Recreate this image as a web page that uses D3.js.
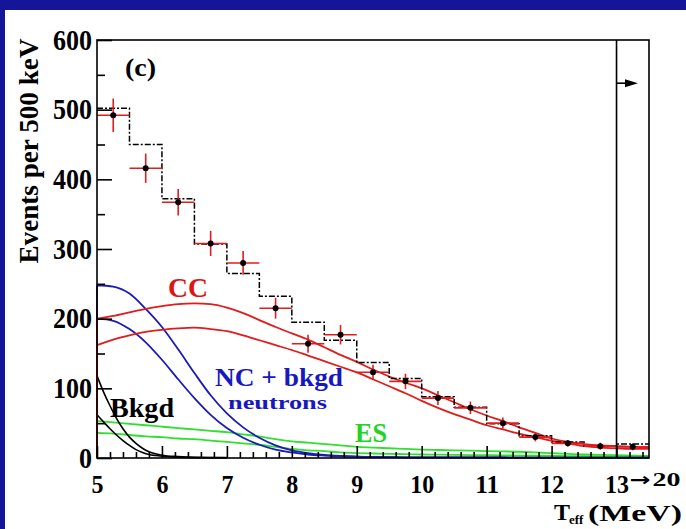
<!DOCTYPE html>
<html>
<head>
<meta charset="utf-8">
<script src="https://cdn.jsdelivr.net/npm/d3@7/dist/d3.min.js"></script>
<style>
  html, body { margin: 0; padding: 0; background: #15159a; }
  svg { display: block; }
  text { font-family: "Liberation Serif", "Times New Roman", serif; }
</style>
</head>
<body>
<svg id="chart" width="686" height="529"></svg>
<script>
// Energy bins (MeV): 0.5 MeV wide from 5 to 13, plus the 13 -> 20 MeV overflow bin,
// which is drawn compressed into the slot 13.0 - 13.5.
const binLow = [5.0, 5.5, 6.0, 6.5, 7.0, 7.5, 8.0, 8.5, 9.0, 9.5, 10.0, 10.5, 11.0, 11.5, 12.0, 12.5, 13.0];
const binWidth = 0.5;

// Measured events per bin and their statistical errors
const dataCounts = [492, 416, 367, 308, 280, 215, 164, 177, 123, 110, 86, 72, 50, 30, 21, 17, 16];
const dataErrors = [24, 21, 19, 18, 17, 15, 13, 14, 11, 11, 10, 9, 8, 6, 5, 5, 5];

// Summed fit (dash-dotted histogram)
const totalFit = [502, 450, 372, 307, 265, 232, 195, 169, 137, 114, 88, 73, 49, 32, 23, 17, 20];

// Signal / background shapes sampled every 0.25 MeV
const curveEnergy = [5.0, 5.25, 5.5, 5.75, 6.0, 6.25, 6.5, 6.75, 7.0, 7.25, 7.5, 7.75, 8.0, 8.25, 8.5, 8.75,
  9.0, 9.25, 9.5, 9.75, 10.0, 10.25, 10.5, 10.75, 11.0, 11.25, 11.5, 11.75, 12.0, 12.25, 12.5, 12.75, 13.0, 13.25, 13.5];
const ccUpper = [200, 204, 209, 214, 218, 221, 222, 221, 216, 208, 198, 188, 179, 170, 159, 148,
  138, 127, 117, 108, 100, 90, 80, 70, 61, 53, 44, 36, 28, 23, 20, 18, 17, 16, 15];
const ccLower = [162, 170, 176, 181, 184, 186, 187, 185, 182, 176, 169, 162, 155, 147, 139, 131,
  123, 113, 103, 93, 82, 72, 63, 55, 47, 41, 35, 30, 25, 21, 17, 15, 14, 13, 13];
const ncUpper = [248, 246, 236, 214, 188, 156, 122, 90, 64, 44, 29, 18, 11, 7, 4.5, 3,
  2, 1.5, 1.2, 1, 1, 0.9, 0.8, 0.8, 0.7, 0.7, 0.6, 0.6, 0.6, 0.5, 0.5, 0.5, 0.5, 0.5, 0.5];
const ncLower = [200, 197, 185, 166, 141, 113, 86, 62, 43, 29, 19, 12, 8, 5, 3.5, 2.5,
  2, 1.5, 1.2, 1, 1, 0.9, 0.8, 0.8, 0.7, 0.7, 0.6, 0.6, 0.6, 0.5, 0.5, 0.5, 0.5, 0.5, 0.5];
const esUpper = [53, 51, 49, 47, 45, 43, 41, 39, 37, 34, 31, 27, 24, 22, 20, 18,
  16, 15, 14, 13, 12, 11.5, 11, 10.5, 10, 9.5, 9, 8, 7, 6, 5, 4.5, 4, 3.5, 3];
const esLower = [36, 35, 33, 31, 30, 28, 27, 25, 23, 21, 19, 16, 13, 11, 10, 8,
  7, 6.5, 6, 5.5, 5, 4.8, 4.5, 4.2, 4, 3.7, 3.5, 3.2, 3, 2.7, 2.5, 2.3, 2, 2, 2];

// Low-energy background, sampled more finely
const bkgdEnergy = [5.0, 5.1, 5.2, 5.3, 5.4, 5.5, 5.6, 5.7, 5.8, 5.9, 6.0, 6.25, 6.5, 7.0];
const bkgdUpper = [118, 95, 75, 57, 42, 30, 21, 14, 9, 6, 4, 2, 1, 0.5];
const bkgdLower = [62, 52, 42, 33, 25, 18, 12, 8, 5, 3.5, 2.5, 1.2, 0.6, 0.3];

// Axis ticks
const xTickValues = [5, 6, 7, 8, 9, 10, 11, 12, 13];
const yTickValues = [0, 100, 200, 300, 400, 500, 600];
const yMinorValues = [50, 150, 250, 350, 450, 550];

// Out-of-range marker in the overflow column
const overflowMarker = 538;

const svg = d3.select("#chart");

// page background
svg.append("rect").attr("x", 5).attr("y", 10).attr("width", 681).attr("height", 519).attr("fill", "#ffffff");

const x = d3.scaleLinear().domain([5, 13.5]).range([97, 649]);
const y = d3.scaleLinear().domain([0, 600]).range([458, 40]);

const plot = svg.append("g");

// ---- model curves ----
const curveLine = d3.line()
  .x(d => x(d[0]))
  .y(d => y(d[1]))
  .curve(d3.curveMonotoneX);

function drawCurve(energy, values, color, width) {
  const pts = energy.map((e, i) => [e, values[i]]);
  // vertical rise at the threshold, then the smooth shape
  plot.append("path")
    .attr("d", `M${x(energy[0])},${y(0)}L${x(energy[0])},${y(values[0])}` + curveLine(pts).replace(/^M/, "L"))
    .attr("fill", "none")
    .attr("stroke", color)
    .attr("stroke-width", width);
}

drawCurve(curveEnergy, esUpper, "#2fe02f", 1.8);
drawCurve(curveEnergy, esLower, "#2fe02f", 1.8);
drawCurve(bkgdEnergy, bkgdUpper, "#000000", 1.6);
drawCurve(bkgdEnergy, bkgdLower, "#000000", 1.6);
drawCurve(curveEnergy, ncUpper, "#1c1cb4", 1.8);
drawCurve(curveEnergy, ncLower, "#1c1cb4", 1.8);
drawCurve(curveEnergy, ccUpper, "#e01c1c", 1.8);
drawCurve(curveEnergy, ccLower, "#e01c1c", 1.8);

// ---- summed fit histogram (dash-dotted steps) ----
const stepPts = binLow.map((e, i) => [e, totalFit[i]]);
stepPts.push([binLow[binLow.length - 1] + binWidth, totalFit[totalFit.length - 1]]);
plot.append("path")
  .attr("d", d3.line().x(d => x(d[0])).y(d => y(d[1])).curve(d3.curveStepAfter)(stepPts))
  .attr("fill", "none")
  .attr("stroke", "#000")
  .attr("stroke-width", 1.5)
  .attr("stroke-dasharray", "6,2,2,2");

// ---- data points with error bars ----
const pts = plot.append("g");
binLow.forEach((e, i) => {
  const xc = e + binWidth / 2;
  pts.append("line")
    .attr("x1", x(e)).attr("x2", x(e + binWidth))
    .attr("y1", y(dataCounts[i])).attr("y2", y(dataCounts[i]))
    .attr("stroke", "#e01c1c").attr("stroke-width", 1.6);
  pts.append("line")
    .attr("x1", x(xc)).attr("x2", x(xc))
    .attr("y1", y(dataCounts[i] - dataErrors[i])).attr("y2", y(dataCounts[i] + dataErrors[i]))
    .attr("stroke", "#e01c1c").attr("stroke-width", 1.6);
  pts.append("circle")
    .attr("cx", x(xc)).attr("cy", y(dataCounts[i])).attr("r", 3)
    .attr("fill", "#000");
});

// ---- frame ----
svg.append("rect")
  .attr("x", x(5)).attr("y", y(600))
  .attr("width", x(13.5) - x(5)).attr("height", y(0) - y(600))
  .attr("fill", "none").attr("stroke", "#000").attr("stroke-width", 1.6);
// separator for the overflow column
svg.append("line")
  .attr("x1", x(13)).attr("x2", x(13)).attr("y1", y(600)).attr("y2", y(0))
  .attr("stroke", "#000").attr("stroke-width", 1.6);

// overflow arrow
svg.append("line")
  .attr("x1", x(13)).attr("x2", x(13.25)).attr("y1", y(overflowMarker)).attr("y2", y(overflowMarker))
  .attr("stroke", "#000").attr("stroke-width", 1.6);
svg.append("path")
  .attr("d", `M${x(13.13)},${y(overflowMarker) - 4}L${x(13.33)},${y(overflowMarker)}L${x(13.13)},${y(overflowMarker) + 4}Z`)
  .attr("fill", "#000");

// ---- axes ----
function styleAxis(g) {
  g.select(".domain").remove();
  g.selectAll(".tick line").attr("stroke", "#000").attr("stroke-width", 1.6);
}

const yAxis = svg.append("g").attr("transform", `translate(${x(5)},0)`)
  .call(d3.axisLeft(y).tickValues(yTickValues).tickSize(-15).tickPadding(5).tickFormat(d3.format("d")));
styleAxis(yAxis);
yAxis.selectAll("text")
  .attr("font-family", "Liberation Serif, serif")
  .attr("font-size", 29).attr("font-weight", "bold").attr("fill", "#000")
  .attr("textLength", d => String(d).length * 13).attr("lengthAdjust", "spacingAndGlyphs");

const yMinor = svg.append("g").attr("transform", `translate(${x(5)},0)`)
  .call(d3.axisLeft(y).tickValues(yMinorValues).tickSize(-8).tickFormat(""));
styleAxis(yMinor);

const xAxis = svg.append("g").attr("transform", `translate(0,${y(0)})`)
  .call(d3.axisBottom(x).tickValues(xTickValues).tickSize(-12).tickPadding(17).tickFormat(d3.format("d")));
styleAxis(xAxis);
xAxis.selectAll("text")
  .attr("font-family", "Liberation Serif, serif")
  .attr("font-size", 26).attr("font-weight", "bold").attr("fill", "#000")
  .attr("textLength", d => String(d).length * 12).attr("lengthAdjust", "spacingAndGlyphs");

const xMinorValues = d3.range(26, 68).map(i => i / 5).filter(v => Math.abs(v - Math.round(v)) > 1e-6);
const xMinor = svg.append("g").attr("transform", `translate(0,${y(0)})`)
  .call(d3.axisBottom(x).tickValues(xMinorValues).tickSize(-6).tickFormat(""));
styleAxis(xMinor);

// overflow bin label continuation: "13 → 20"
const ovf = svg.append("text").attr("y", 486).attr("font-weight", "bold");
ovf.append("tspan").attr("x", x(13) + 13).attr("font-family", "DejaVu Sans, sans-serif")
  .attr("font-size", 18).attr("textLength", 21).attr("lengthAdjust", "spacingAndGlyphs").text("→");
ovf.append("tspan").attr("x", x(13) + 36).attr("font-size", 19)
  .attr("textLength", 28).attr("lengthAdjust", "spacingAndGlyphs").text("20");

// axis titles
svg.append("text")
  .attr("transform", "translate(38,151) rotate(-90)")
  .attr("text-anchor", "middle")
  .attr("font-size", 27).attr("font-weight", "bold")
  .attr("textLength", 225).attr("lengthAdjust", "spacingAndGlyphs")
  .text("Events per 500 keV");

const xt = svg.append("text").attr("font-weight", "bold");
xt.append("tspan").attr("x", 554).attr("y", 520).attr("font-size", 24).text("T");
xt.append("tspan").attr("x", 569).attr("y", 524).attr("font-size", 13).text("eff");
xt.append("tspan").attr("x", 588).attr("y", 521).attr("font-size", 24)
  .attr("textLength", 94).attr("lengthAdjust", "spacingAndGlyphs").text("(MeV)");

// panel tag and component labels
function label(txt, x0, y0, size, color, len, weight) {
  svg.append("text")
    .attr("x", x0).attr("y", y0)
    .attr("font-size", size).attr("font-weight", weight || "bold")
    .attr("fill", color)
    .attr("textLength", len).attr("lengthAdjust", "spacingAndGlyphs")
    .text(txt);
}
label("(c)", 125, 76, 25, "#000", 31);
label("CC", 168, 297, 28, "#dd1515", 40);
label("NC + bkgd", 215, 386, 26, "#1818c0", 128);
label("neutrons", 228, 409, 19, "#1818c0", 99);
label("ES", 355, 442, 28, "#22d422", 32);
label("Bkgd", 110, 417, 27, "#000", 64);
</script>
</body>
</html>
